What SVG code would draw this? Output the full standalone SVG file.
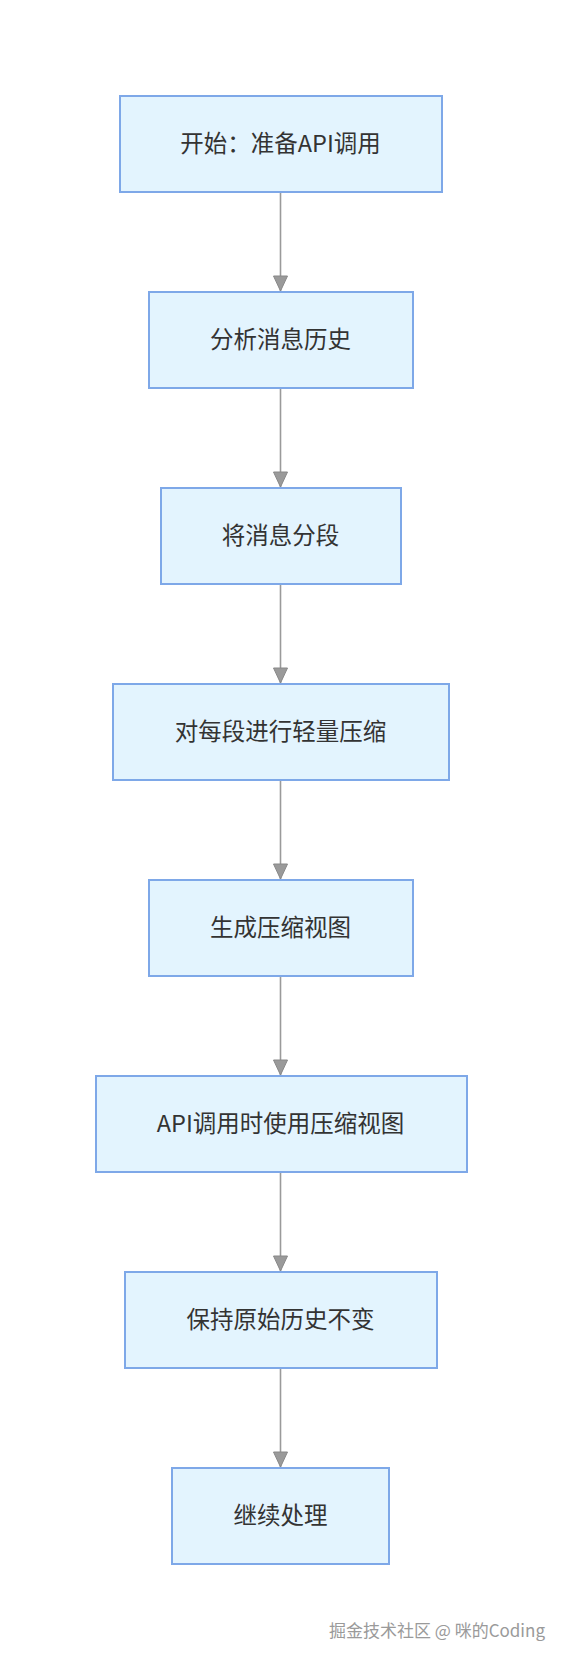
<svg xmlns="http://www.w3.org/2000/svg" width="562" height="1660" viewBox="0 0 562 1660">
<style>
.box{fill:#e3f4fe;stroke:#7ea8e8;stroke-width:2}
.lbl{font-family:"Noto Sans CJK SC","Noto Sans",sans-serif;font-size:23.5px;fill:#333333;text-anchor:middle}
.edge{stroke:#9a9a9a;stroke-width:1.6;fill:none}
.wm{font-family:"Noto Sans CJK SC","Noto Sans",sans-serif;font-size:17px;fill:#9a9a9a;text-anchor:end}
</style>
<defs>
<marker id="arr" markerWidth="18" markerHeight="16" refX="16" refY="8" orient="auto" markerUnits="userSpaceOnUse" viewBox="0 0 18 16">
<path d="M1,1 L16,8 L1,15 Z" fill="#9a9a9a" stroke="#888888" stroke-width="1"/>
</marker>
</defs>
<rect width="562" height="1660" fill="#ffffff"/>
<g id="connectors">
<line class="edge" x1="280.5" y1="192" x2="280.5" y2="291" marker-end="url(#arr)"/>
<line class="edge" x1="280.5" y1="388" x2="280.5" y2="487" marker-end="url(#arr)"/>
<line class="edge" x1="280.5" y1="584" x2="280.5" y2="683" marker-end="url(#arr)"/>
<line class="edge" x1="280.5" y1="780" x2="280.5" y2="879" marker-end="url(#arr)"/>
<line class="edge" x1="280.5" y1="976" x2="280.5" y2="1075" marker-end="url(#arr)"/>
<line class="edge" x1="280.5" y1="1172" x2="280.5" y2="1271" marker-end="url(#arr)"/>
<line class="edge" x1="280.5" y1="1368" x2="280.5" y2="1467" marker-end="url(#arr)"/>
</g>
<g id="n1"><rect class="box" x="120" y="96" width="322" height="96"/><text class="lbl" x="280.5" y="152">开始：准备API调用</text></g>
<g id="n2"><rect class="box" x="149" y="292" width="264" height="96"/><text class="lbl" x="280.5" y="348">分析消息历史</text></g>
<g id="n3"><rect class="box" x="161" y="488" width="240" height="96"/><text class="lbl" x="280.5" y="544">将消息分段</text></g>
<g id="n4"><rect class="box" x="113" y="684" width="336" height="96"/><text class="lbl" x="280.5" y="740">对每段进行轻量压缩</text></g>
<g id="n5"><rect class="box" x="149" y="880" width="264" height="96"/><text class="lbl" x="280.5" y="936">生成压缩视图</text></g>
<g id="n6"><rect class="box" x="96" y="1076" width="371" height="96"/><text class="lbl" x="280.5" y="1132">API调用时使用压缩视图</text></g>
<g id="n7"><rect class="box" x="125" y="1272" width="312" height="96"/><text class="lbl" x="280.5" y="1328">保持原始历史不变</text></g>
<g id="n8"><rect class="box" x="172" y="1468" width="217" height="96"/><text class="lbl" x="280.5" y="1524">继续处理</text></g>
<text class="wm" x="545" y="1637">掘金技术社区 @ 咪的Coding</text>
</svg>
